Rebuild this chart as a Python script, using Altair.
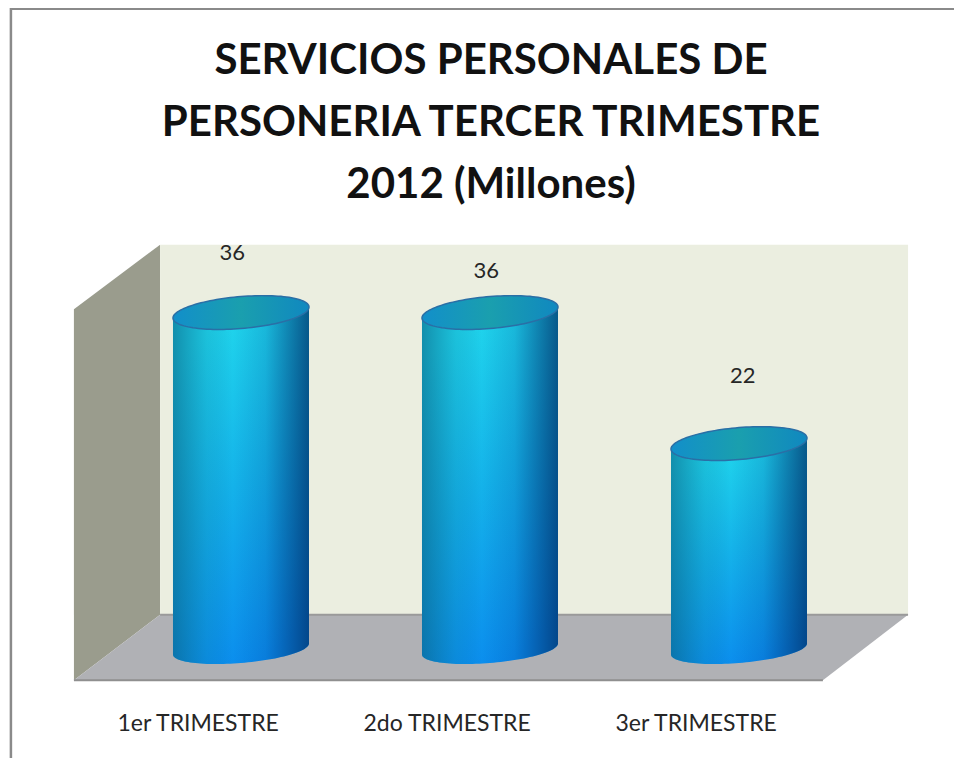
import math
import altair as alt
import pandas as pd

# --- chart values -----------------------------------------------------------
CATEGORIES = ["1er TRIMESTRE", "2do TRIMESTRE", "3er TRIMESTRE"]
VALUES = [36, 36, 22]
VALUE_LABEL_Y = [42.3, 40.4, 29.2]
VALUE_LABEL_X = [-0.035, -0.015, 0.015]
CATEGORY_LABEL_X = [-0.172, -0.172, -0.172]
CATEGORY_LABEL_Y = -8.0
TITLE_LINES = ["SERVICIOS PERSONALES DE", "PERSONERIA TERCER TRIMESTRE", "2012 (Millones)"]

# --- box of the 3D plot, in data units (x: category index, y: value) ---------
LEFT_WALL_X = [-0.671, -0.325]
LEFT_WALL_TOP = [36.3, 43.2]
LEFT_WALL_BOTTOM = [-3.35, 3.65]
BACK_WALL_X = [-0.325, 2.679]
BACK_WALL_TOP = [43.2, 43.2]
BACK_WALL_BOTTOM = [3.65, 3.65]
FLOOR_X = [-0.671, -0.325, 2.337, 2.679]
FLOOR_TOP = [-3.35, 3.65, 3.65, 3.65]
FLOOR_BOTTOM = [-3.35, -3.35, -3.35, 3.65]

X_MIN, X_MAX = -0.9357, 2.8635
Y_MIN, Y_MAX = -11.645, 68.483
XS = alt.Scale(domain=[X_MIN, X_MAX], nice=False, zero=False)
YS = alt.Scale(domain=[Y_MIN, Y_MAX], nice=False, zero=False)
X = alt.X("x:Q", scale=XS, axis=None)
Y = alt.Y("y:Q", scale=YS, axis=None)
Y2 = alt.Y2("y2:Q")

HALF_W = 68 / 249        # cylinder half width in x units
TILT = 5.5 / 9.36        # tilt of ellipses in y units
LID_SEMI = 16 / 9.36     # vertical semi-axis of the lid
LID_DROP = 0.5 / 9.36
BASE_SEMI = 14 / 9.36    # vertical semi-axis of the base


def band(xs, top, bottom):
    return pd.DataFrame({"x": xs, "y": top, "y2": bottom})


def area(df, color, **kw):
    return alt.Chart(df).mark_area(color=color, interpolate="linear", **kw).encode(x=X, y=Y, y2=Y2)


steps = [math.cos(math.pi * k / 60) for k in range(60, -1, -1)]
body_rows, top_rows = [], []
for i, v in enumerate(VALUES):
    for u in steps:
        r = math.sqrt(max(0, 1 - u * u))
        xx = i + u * HALF_W
        lid_mid = v + TILT * u - LID_DROP
        body_rows.append({"c": i, "x": xx, "y": lid_mid, "y2": TILT * u - BASE_SEMI * r})
        top_rows.append({"c": i, "x": xx, "y": lid_mid + LID_SEMI * r, "y2": lid_mid - LID_SEMI * r})
body = pd.DataFrame(body_rows)
tops = pd.DataFrame(top_rows)

vertical = alt.Gradient(
    gradient="linear", x1=0.3, y1=0, x2=0.62, y2=1,
    stops=[alt.GradientStop(color="#20d6ec", offset=0.05),
           alt.GradientStop(color="#14b2ea", offset=0.5),
           alt.GradientStop(color="#0a8aee", offset=1)],
)
shade = alt.Gradient(
    gradient="linear", x1=0, y1=0, x2=1, y2=0,
    stops=[alt.GradientStop(color="rgba(8,90,125,0.58)", offset=0),
           alt.GradientStop(color="rgba(8,100,140,0.18)", offset=0.25),
           alt.GradientStop(color="rgba(0,60,120,0)", offset=0.44),
           alt.GradientStop(color="rgba(0,50,110,0.14)", offset=0.68),
           alt.GradientStop(color="rgba(0,45,100,0.72)", offset=1)],
)
lid = alt.Gradient(
    gradient="linear", x1=0, y1=0, x2=1, y2=0,
    stops=[alt.GradientStop(color="#128fca", offset=0),
           alt.GradientStop(color="#1a9fae", offset=0.5),
           alt.GradientStop(color="#1088c0", offset=1)],
)


def cyl(df, **kw):
    return alt.Chart(df).mark_area(interpolate="linear", **kw).encode(
        x=X, y=Y, y2=Y2, detail="c:N"
    )


layers = [
    area(band(LEFT_WALL_X, LEFT_WALL_TOP, LEFT_WALL_BOTTOM), "#9a9c8d"),
    area(band(BACK_WALL_X, BACK_WALL_TOP, BACK_WALL_BOTTOM), "#ebeee0"),
    area(band(FLOOR_X, FLOOR_TOP, FLOOR_BOTTOM), "#b0b1b5"),
    alt.Chart(pd.DataFrame({"x": [FLOOR_X[1]], "x2": [FLOOR_X[3]], "y": [FLOOR_TOP[1]]}))
    .mark_rule(color="#9a9a9a", strokeWidth=2).encode(x=X, x2="x2:Q", y=Y),
    alt.Chart(pd.DataFrame({"x": [FLOOR_X[0]], "x2": [FLOOR_X[2]], "y": [FLOOR_BOTTOM[0]]}))
    .mark_rule(color="#8f8f8f", strokeWidth=2).encode(x=X, x2="x2:Q", y=Y),
    cyl(body, fill=vertical),
    cyl(body, fill=shade),
    cyl(tops, fill=lid, stroke="#2a6fa6", strokeWidth=1.5),
]

value_df = pd.DataFrame(
    {"x": [i + d for i, d in enumerate(VALUE_LABEL_X)], "y": VALUE_LABEL_Y, "t": [str(v) for v in VALUES]}
)
layers.append(
    alt.Chart(value_df).mark_text(font="Lato", fontSize=22, color="#262626").encode(x=X, y=Y, text="t:N")
)
cat_df = pd.DataFrame(
    {"x": [i + d for i, d in enumerate(CATEGORY_LABEL_X)], "y": [CATEGORY_LABEL_Y] * 3, "t": CATEGORIES}
)
layers.append(
    alt.Chart(cat_df).mark_text(font="Lato", fontSize=23, color="#262626").encode(x=X, y=Y, text="t:N")
)

# chart frame (left and top edges)
frame_x = -0.924
layers.append(
    alt.Chart(pd.DataFrame({"x": [frame_x], "x2": [X_MAX], "y": [68.4]}))
    .mark_rule(color="#8a8a8a", strokeWidth=2.5).encode(x=X, x2="x2:Q", y=Y)
)
layers.append(
    alt.Chart(pd.DataFrame({"x": [frame_x], "y": [Y_MAX], "y2": [Y_MIN]}))
    .mark_rule(color="#8a8a8a", strokeWidth=2.5).encode(x=X, y=Y, y2=Y2)
)

chart = (
    alt.layer(*layers)
    .properties(
        width=946,
        height=750,
        padding=0,
        autosize=alt.AutoSizeParams(type="none"),
        background="white",
        title=alt.TitleParams(
            text=TITLE_LINES,
            font="Lato",
            fontWeight="bold",
            fontSize=42,
            lineHeight=62,
            color="#111111",
            anchor="middle",
            frame="group",
            dx=10,
            dy=200,
            offset=0,
        ),
    )
    .configure_view(stroke=None)
)

chart.save("out.html", embed_options={"renderer": "svg", "actions": False})
